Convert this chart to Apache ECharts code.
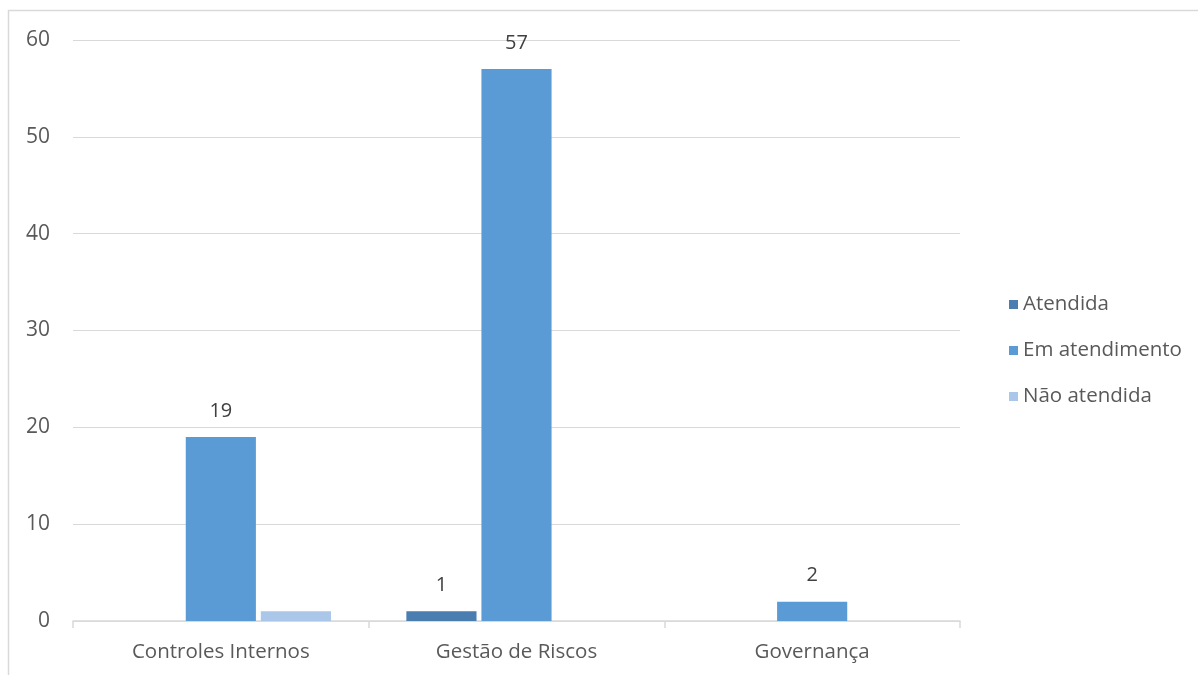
<!DOCTYPE html>
<html>
<head>
<meta charset="utf-8">
<script src="https://cdn.jsdelivr.net/npm/echarts@6/dist/echarts.min.js"></script>
<style>
  html, body { margin: 0; padding: 0; background: #fff; }
  #chart { width: 1198px; height: 675px; }
</style>
</head>
<body>
<div id="chart"></div>
<script>
// Recommendation status by area
const categories = ['Controles Internos', 'Gestão de Riscos', 'Governança'];
const seriesNames = ['Atendida', 'Em atendimento', 'Não atendida'];
const atendida = [null, 1, null];
const emAtendimento = [19, 57, 2];
const naoAtendida = [1, null, null];
// which points carry a value label
const showLabelAtendida = [false, true, false];
const showLabelEmAtendimento = [true, true, true];
const showLabelNaoAtendida = [false, false, false];

const colors = ['#4a7db0', '#5b9bd5', '#aac6e8'];
const textColor = '#595959';
const fontFamily = '"Open Sans", "Liberation Sans", sans-serif';

function withLabels(values, flags) {
  return values.map((v, i) => ({ value: v, label: { show: flags[i] } }));
}

const chart = echarts.init(document.getElementById('chart'));

const labelStyle = {
  position: 'top',
  distance: 16,
  color: '#404040',
  fontSize: 20,
  fontFamily: fontFamily
};

chart.setOption({
  animation: false,
  graphic: [{
    type: 'rect',
    shape: { x: 8.5, y: 10.5, width: 1300, height: 1000 },
    style: { fill: 'none', stroke: '#d9d9d9', lineWidth: 1.5 },
    silent: true
  }],
  grid: { left: 73, right: 238, top: 40, bottom: 54 },
  legend: {
    orient: 'vertical',
    left: 1004,
    top: 289,
    itemWidth: 9,
    itemHeight: 9,
    itemGap: 25,
    icon: 'rect',
    data: seriesNames,
    textStyle: { color: textColor, fontSize: 20.5, fontFamily: fontFamily, padding: [0, 0, 0, 0] }
  },
  xAxis: {
    type: 'category',
    data: categories,
    axisLine: { lineStyle: { color: '#d9d9d9', width: 1.5 } },
    axisTick: { show: true, length: 7, lineStyle: { color: '#d9d9d9', width: 1.5 } },
    axisLabel: { color: textColor, fontSize: 20.5, fontFamily: fontFamily, margin: 21 }
  },
  yAxis: {
    type: 'value',
    min: 0,
    max: 60,
    interval: 10,
    axisLine: { show: false },
    axisTick: { show: false },
    splitLine: { lineStyle: { color: '#d9d9d9', width: 1.2 } },
    axisLabel: { color: textColor, fontSize: 21, fontFamily: fontFamily, margin: 23 }
  },
  series: [
    {
      name: seriesNames[0], type: 'bar',
      data: withLabels(atendida, showLabelAtendida),
      itemStyle: { color: colors[0] },
      label: labelStyle,
      barGap: '7%', barCategoryGap: '25.5%'
    },
    {
      name: seriesNames[1], type: 'bar',
      data: withLabels(emAtendimento, showLabelEmAtendimento),
      itemStyle: { color: colors[1] },
      label: labelStyle,
      barGap: '7%', barCategoryGap: '25.5%'
    },
    {
      name: seriesNames[2], type: 'bar',
      data: withLabels(naoAtendida, showLabelNaoAtendida),
      itemStyle: { color: colors[2] },
      label: labelStyle,
      barGap: '7%', barCategoryGap: '25.5%'
    }
  ]
});
</script>
</body>
</html>
